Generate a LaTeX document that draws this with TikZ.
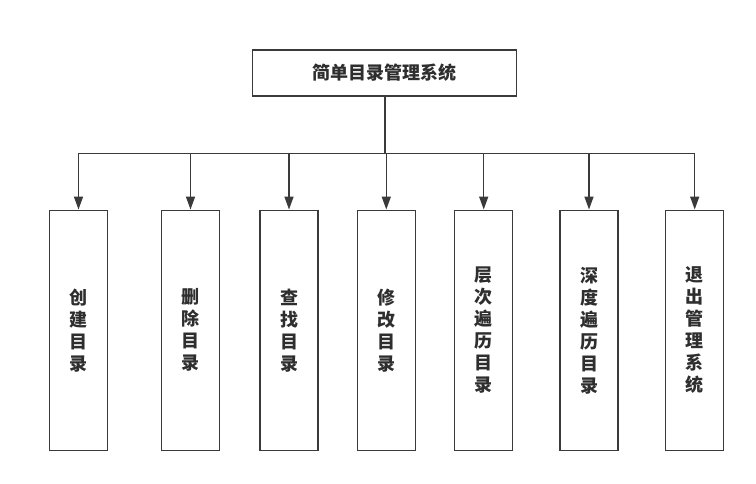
\documentclass[tikz,border=0pt]{standalone}
\usepackage{fontspec}
\newfontfamily\cjk{Noto Sans CJK SC}
\usetikzlibrary{arrows.meta}
\definecolor{linegray}{HTML}{3A3A3A}
\definecolor{textgray}{HTML}{2E2E2E}
\tikzset{
  topbox/.style={draw=linegray, line width=1.5pt, minimum width=264pt, minimum height=46pt,
    text=textgray, font=\cjk\bfseries\fontsize{18}{22}\selectfont},
  funcbox/.style={draw=linegray, line width=1.5pt, minimum width=58pt, minimum height=240pt,
    inner sep=0pt, align=center, text=textgray, font=\cjk\bfseries\fontsize{18}{22}\selectfont},
  link/.style={draw=linegray, line width=1.5pt},
  arrowlink/.style={link, -{Triangle[length=13pt,width=9pt]}}
}
\begin{document}
\begin{tikzpicture}[x=1pt,y=-1pt]
      \useasboundingbox (0,0) rectangle (756,484);
      \node[topbox] (sys) at (384.7,73) {简单目录管理系统};
      \node[funcbox] (0) at (78.5,330.3) {创\\建\\目\\录};
      \node[funcbox] (1) at (190.5,330.3) {删\\除\\目\\录};
      \node[funcbox] (2) at (289,330.3) {查\\找\\目\\录};
      \node[funcbox] (3) at (386.3,330.3) {修\\改\\目\\录};
      \node[funcbox] (4) at (483.7,330.3) {层\\次\\遍\\历\\目\\录};
      \node[funcbox] (5) at (589,330.3) {深\\度\\遍\\历\\目\\录};
      \node[funcbox] (6) at (694.7,330.3) {退\\出\\管\\理\\系\\统};
      \coordinate (bus) at (385,153.3);
      \begin{scope}[link]
        \draw (sys.south -| bus) -- (bus);
        \draw (0.north |- bus) -- (6.north |- bus);
      \end{scope}
      \begin{scope}[arrowlink]
        \draw (0.north |- bus) -- (0.north);
        \draw (1.north |- bus) -- (1.north);
        \draw (2.north |- bus) -- (2.north);
        \draw (3.north |- bus) -- (3.north);
        \draw (4.north |- bus) -- (4.north);
        \draw (5.north |- bus) -- (5.north);
        \draw (6.north |- bus) -- (6.north);
      \end{scope}
    \end{tikzpicture}
\end{document}
